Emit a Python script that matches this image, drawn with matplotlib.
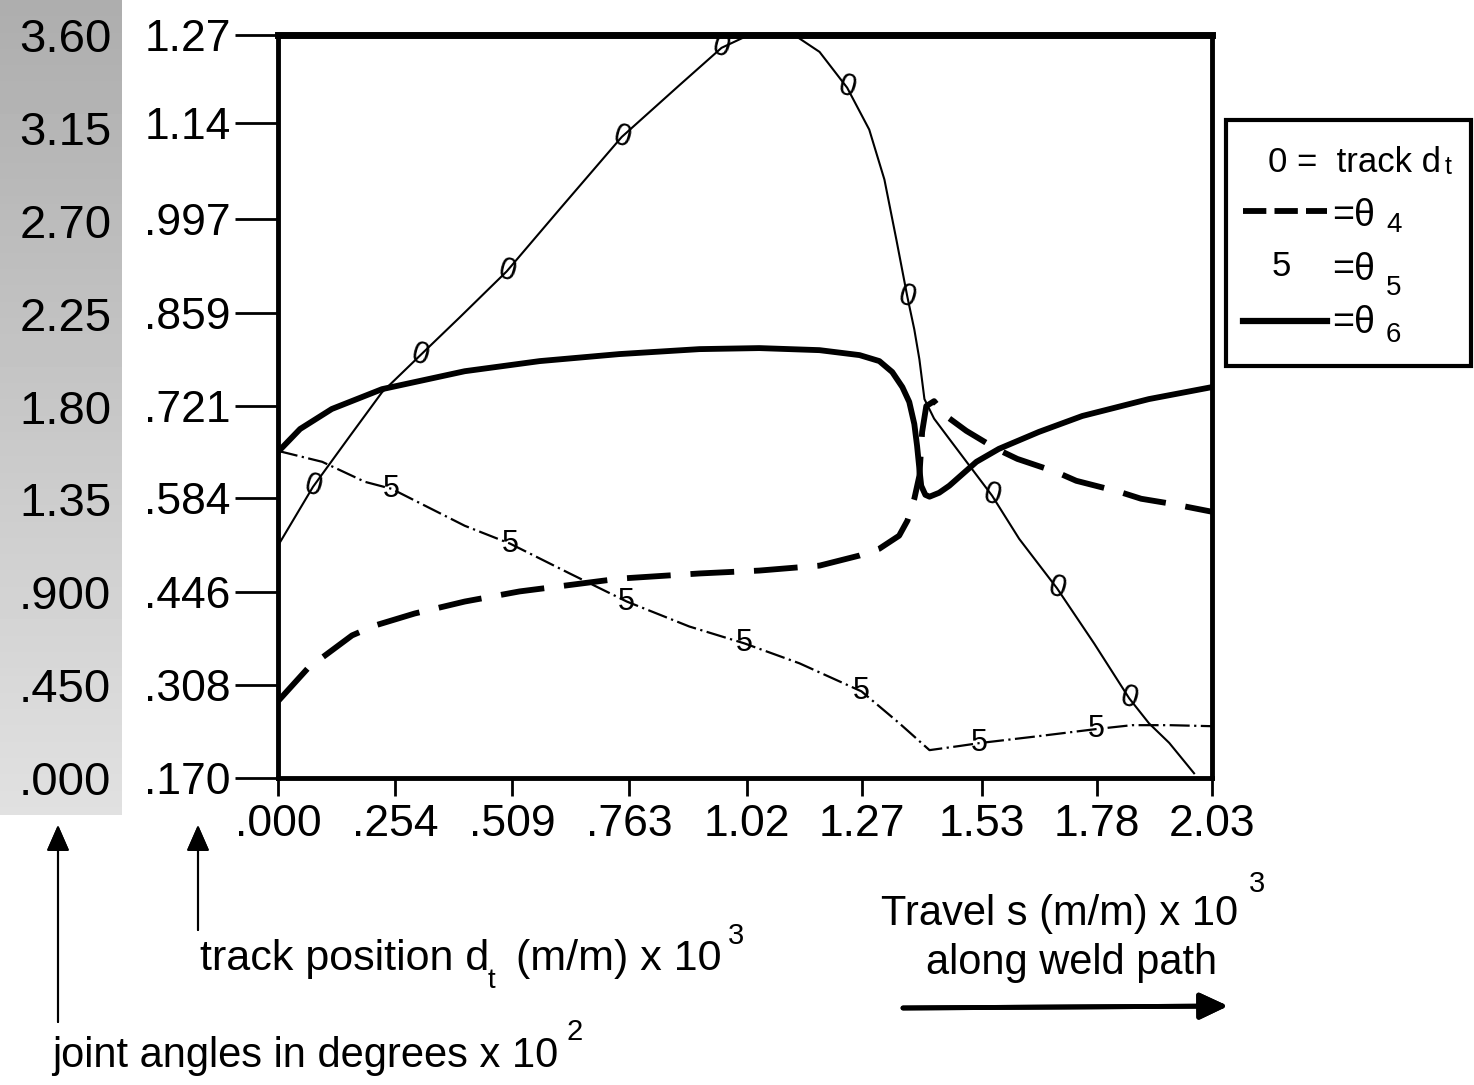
import numpy as np
import matplotlib.pyplot as plt
from matplotlib.patches import Rectangle
from matplotlib.lines import Line2D

# travel s (m/m x 10^3) and track position d_t (m/m x 10^3)
s_track = [0.0, 0.076, 0.156, 0.226, 0.308, 0.395, 0.497, 0.612, 0.747, 0.873,
           0.964, 1.014, 1.068, 1.122, 1.177, 1.237, 1.285, 1.318, 1.344, 1.368,
           1.383, 1.394, 1.405, 1.426, 1.459, 1.552, 1.611, 1.693, 1.774, 1.850,
           1.893, 1.937, 1.991]
d_track = [0.514, 0.601, 0.676, 0.741, 0.795, 0.852, 0.920, 1.012, 1.119, 1.196,
           1.251, 1.267, 1.270, 1.270, 1.245, 1.192, 1.130, 1.056, 0.967, 0.882,
           0.834, 0.790, 0.731, 0.702, 0.672, 0.588, 0.524, 0.451, 0.369, 0.288,
           0.251, 0.222, 0.177]
track_marks = [1, 4, 6, 8, 10, 15, 19, 25, 27, 29]

# joint angles (degrees x 10^2)
s_th4 = [0.0, 0.065, 0.161, 0.211, 0.297, 0.406, 0.525, 0.742, 0.916, 1.046,
         1.177, 1.264, 1.307, 1.350, 1.368, 1.383, 1.394, 1.400, 1.409, 1.426,
         1.452, 1.496, 1.561, 1.607, 1.691, 1.735, 1.828, 1.876, 1.941, 2.03]
th4 = [0.372, 0.532, 0.691, 0.739, 0.797, 0.855, 0.904, 0.966, 0.991, 1.005,
       1.029, 1.078, 1.111, 1.174, 1.247, 1.353, 1.464, 1.677, 1.802, 1.826,
       1.754, 1.682, 1.595, 1.546, 1.483, 1.440, 1.387, 1.353, 1.329, 1.290]

s_th5 = [0.0, 0.096, 0.189, 0.247, 0.406, 0.504, 0.634, 0.758, 0.894, 1.014,
         1.133, 1.268, 1.350, 1.416, 1.481, 1.524, 1.654, 1.778, 1.856, 1.937, 2.03]
th5 = [1.585, 1.532, 1.435, 1.401, 1.222, 1.136, 0.991, 0.855, 0.734, 0.652,
       0.556, 0.420, 0.266, 0.135, 0.155, 0.169, 0.203, 0.237, 0.256, 0.256, 0.251]
th5_marks = [3, 5, 7, 9, 11, 15, 17]

s_th6 = [0.0, 0.048, 0.117, 0.226, 0.406, 0.569, 0.742, 0.916, 1.046, 1.177,
         1.264, 1.307, 1.335, 1.357, 1.372, 1.383, 1.389, 1.394, 1.398, 1.407,
         1.416, 1.437, 1.459, 1.518, 1.567, 1.654, 1.748, 1.893, 2.03]
th6 = [1.580, 1.691, 1.788, 1.884, 1.971, 2.020, 2.054, 2.078, 2.083, 2.073,
       2.049, 2.020, 1.967, 1.894, 1.822, 1.715, 1.609, 1.498, 1.416, 1.372,
       1.363, 1.382, 1.416, 1.532, 1.595, 1.677, 1.754, 1.836, 1.894]

x_labels = ['.000', '.254', '.509', '.763', '1.02', '1.27', '1.53', '1.78', '2.03']
d_labels = ['.170', '.308', '.446', '.584', '.721', '.859', '.997', '1.14', '1.27']
ang_labels = ['.000', '.450', '.900', '1.35', '1.80', '2.25', '2.70', '3.15', '3.60']

W, H = 1474, 1085
sans = ['Liberation Sans', 'DejaVu Sans']


def fp(x, y):
    # pixel (from top-left) -> figure fraction
    return x / W, 1 - y / H


fig = plt.figure(figsize=(W / 100, H / 100), dpi=100)

# gray strip behind the joint-angle scale
bg = fig.add_axes([0, 1 - 815 / H, 122 / W, 815 / H], zorder=-1)
grad = np.linspace(0.68, 0.88, 100).reshape(-1, 1)
bg.imshow(grad, cmap='gray', vmin=0, vmax=1, aspect='auto', extent=[0, 1, 0, 1])
bg.axis('off')

ax = fig.add_axes([278 / W, 1 - 778 / H, (1212 - 278) / W, (778 - 35) / H])
ax.set_xlim(0, 2.03)
ax.set_ylim(0.170, 1.27)
ax.set_xticks([float(v) for v in x_labels])
ax.set_xticklabels(x_labels, fontfamily=sans, fontsize=32)
ax.set_yticks([float(v) for v in d_labels])
ax.set_yticklabels(d_labels, fontfamily=sans, fontsize=32)
ax.tick_params(axis='y', direction='out', length=31, width=2, pad=3)
ax.tick_params(axis='x', direction='out', length=13, width=2, pad=6)
for side, sp in ax.spines.items():
    sp.set_linewidth(5 if side == 'top' else 3.5)

ax.plot(s_track, d_track, color='k', lw=1.5, solid_joinstyle='round')
for i in track_marks:
    ax.text(s_track[i], d_track[i], '0', ha='center', va='center', fontsize=22,
            fontfamily=sans, rotation=-15)

ax2 = ax.twinx()
ax2.set_ylim(0, 3.6)
ax2.set_yticks([float(v) for v in ang_labels])
ax2.set_yticklabels(ang_labels, fontfamily=sans, fontsize=34)
ax2.yaxis.tick_left()
ax2.tick_params(axis='y', length=0, pad=120)
for sp in ax2.spines.values():
    sp.set_visible(False)

ax2.plot(s_th4, th4, color='k', lw=4.2, dashes=(7.5, 3.4), solid_joinstyle='round')
ax2.plot(s_th5, th5, color='k', lw=1.6, dashes=(9, 2, 1, 2))
for i in th5_marks:
    ax2.text(s_th5[i], th5[i], '5', ha='center', va='center', fontsize=22,
             fontfamily=sans)
ax2.plot(s_th6, th6, color='k', lw=4.2, solid_joinstyle='round')

# legend box
x0, y0 = fp(1226, 366)
x1, y1 = fp(1471, 120)
fig.add_artist(Rectangle((x0, y0), x1 - x0, y1 - y0, transform=fig.transFigure,
                         fill=False, lw=3, ec='k'))
fig.text(*fp(1268, 172), '0 =  track d', fontsize=25, fontfamily=sans, va='baseline')
fig.text(*fp(1445, 174), 't', fontsize=18, fontfamily=sans, va='baseline')
xa, ya = fp(1243, 211)
xb, _ = fp(1327, 211)
fig.add_artist(Line2D([xa, xb], [ya, ya], transform=fig.transFigure, color='k',
                      lw=4.2, dashes=(4, 1.4)))
fig.text(*fp(1332, 226), '=θ', fontsize=27, fontfamily=sans, va='baseline')
fig.text(*fp(1386, 232), '4', fontsize=20, fontfamily=sans, va='baseline')
fig.text(*fp(1272, 276), '5', fontsize=25, fontfamily=sans, va='baseline')
fig.text(*fp(1332, 280), '=θ', fontsize=27, fontfamily=sans, va='baseline')
fig.text(*fp(1386, 295), '5', fontsize=20, fontfamily=sans, va='baseline')
xa, ya = fp(1243, 321)
fig.add_artist(Line2D([xa, xb], [ya, ya], transform=fig.transFigure, color='k',
                      lw=4.5))
fig.text(*fp(1332, 333), '=θ', fontsize=27, fontfamily=sans, va='baseline')
fig.text(*fp(1386, 342), '6', fontsize=20, fontfamily=sans, va='baseline')

# axis captions
fig.text(*fp(1060, 925), 'Travel s (m/m) x 10', fontsize=30, fontfamily=sans,
         ha='center', va='baseline')
fig.text(*fp(1249, 892), '3', fontsize=21, fontfamily=sans, va='baseline')
fig.text(*fp(1072, 974), 'along weld path', fontsize=30, fontfamily=sans,
         ha='center', va='baseline')
fig.text(*fp(200, 970), 'track position d', fontsize=31, fontfamily=sans, va='baseline')
fig.text(*fp(488, 988), 't', fontsize=20, fontfamily=sans, va='baseline')
fig.text(*fp(516, 970), '(m/m) x 10', fontsize=31, fontfamily=sans, va='baseline')
fig.text(*fp(728, 944), '3', fontsize=21, fontfamily=sans, va='baseline')
fig.text(*fp(52, 1067), 'joint angles in degrees x 10', fontsize=30, fontfamily=sans,
         va='baseline')
fig.text(*fp(566, 1040), '2', fontsize=21, fontfamily=sans, va='baseline')

# arrows
arr = dict(arrowstyle='-|>,head_length=0.8,head_width=0.35', color='k', lw=1.5,
           mutation_scale=20, shrinkA=0, shrinkB=0)
fig.add_artist(plt.annotate('', xy=fp(58, 825), xytext=fp(58, 1022),
                            xycoords='figure fraction', arrowprops=arr))
fig.add_artist(plt.annotate('', xy=fp(198, 825), xytext=fp(198, 930),
                            xycoords='figure fraction', arrowprops=arr))
arr2 = dict(arrowstyle='-|>,head_length=0.85,head_width=0.4', color='k', lw=3.5,
            mutation_scale=20, shrinkA=0, shrinkB=0)
fig.add_artist(plt.annotate('', xy=fp(1228, 1006), xytext=fp(903, 1008),
                            xycoords='figure fraction', arrowprops=arr2))

fig.savefig('out.png', dpi=100)
